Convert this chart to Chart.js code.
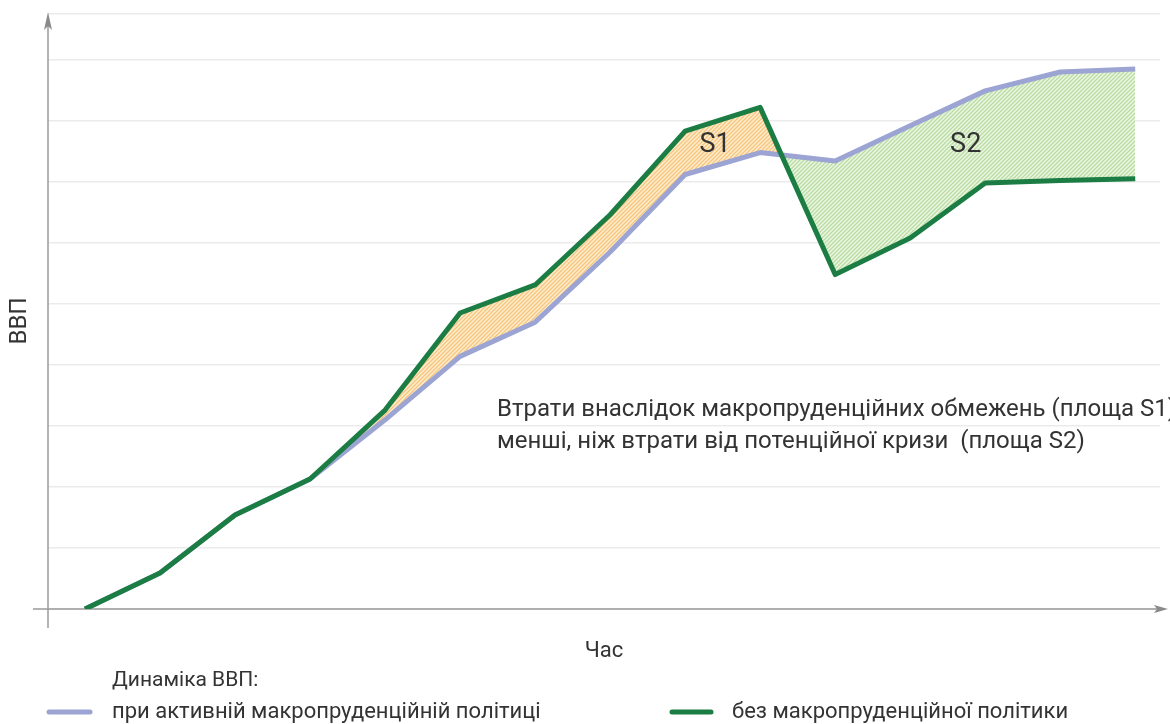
<!DOCTYPE html>
<html>
<head>
<meta charset="utf-8">
<script src="https://cdn.jsdelivr.net/npm/chart.js@4.4.1/dist/chart.umd.min.js"></script>
<style>
  html, body { margin: 0; padding: 0; background: #fff; }
  #wrap { width: 1170px; height: 724px; position: relative; }
</style>
</head>
<body>
<div id="wrap"><canvas id="gdpChart" width="1170" height="724"></canvas></div>
<script>
// Періоди (вісь часу) та значення ВВП
const periods = [0, 1, 2, 3, 4, 5, 6, 7, 8, 9, 10, 11, 12, 13, 14];
const gdpWithPolicy = [0, 0.59, 1.54, 2.13, 3.10, 4.14, 4.70, 5.85, 7.12, 7.48, 7.34, 7.92, 8.49, 8.80, 8.85];
const gdpNoPolicy = [0, 0.59, 1.54, 2.13, 3.26, 4.85, 5.31, 6.46, 7.83, 8.22, 5.48, 6.08, 6.98, 7.02, 7.05];

const labelWithPolicy = 'при активній макропруденційній політиці';
const labelNoPolicy = 'без макропруденційної політики';
const legendTitle = 'Динаміка ВВП:';
const yTitle = 'ВВП';
const xTitle = 'Час';
const noteLines = [
    'Втрати внаслідок макропруденційних обмежень (площа S1)',
    'менші, ніж втрати від потенційної кризи  (площа S2)'
];

const blueColor = '#9ba4d2';
const greenColor = '#1b7d43';
const textColor = '#333333';
const fontFamily = "'Roboto', 'Liberation Sans', sans-serif";

// Штрихування для площ S1 і S2
function makeHatch(bg, stripe, size) {
    const c = document.createElement('canvas');
    c.width = size; c.height = size;
    const g = c.getContext('2d');
    g.fillStyle = bg;
    g.fillRect(0, 0, size, size);
    g.strokeStyle = stripe;
    g.lineWidth = 1.4;
    g.beginPath();
    g.moveTo(0, size); g.lineTo(size, 0);
    g.moveTo(-size / 2, size / 2); g.lineTo(size / 2, -size / 2);
    g.moveTo(size / 2, size * 1.5); g.lineTo(size * 1.5, size / 2);
    g.stroke();
    return g.createPattern(c, 'repeat');
}
const hatchS1 = makeHatch('#feeed2', '#f7c57c', 4);
const hatchS2 = makeHatch('#edf7e5', '#b9dca2', 4);

// Осі зі стрілками, підписи, примітка та легенда
const decorations = {
    id: 'decorations',
    beforeDatasetsDraw(chart) {
        const ctx = chart.ctx;
        const x = chart.scales.x, y = chart.scales.y;
        const x0 = x.getPixelForValue(x.min);
        const y0 = y.getPixelForValue(0);
        ctx.save();
        ctx.strokeStyle = '#9a9a9a';
        ctx.fillStyle = '#8a8a8a';
        ctx.lineWidth = 1.5;
        ctx.beginPath();
        ctx.moveTo(x0, y0 + 19); ctx.lineTo(x0, chart.chartArea.top + 6);
        ctx.moveTo(x0 - 15, y0); ctx.lineTo(chart.chartArea.right + 2, y0);
        ctx.stroke();
        // стрілка вгору
        const top = chart.chartArea.top - 2;
        ctx.beginPath();
        ctx.moveTo(x0, top); ctx.lineTo(x0 - 4, top + 18); ctx.lineTo(x0, top + 14); ctx.lineTo(x0 + 4, top + 18);
        ctx.closePath(); ctx.fill();
        // стрілка вправо
        const right = chart.chartArea.right + 8;
        ctx.beginPath();
        ctx.moveTo(right, y0); ctx.lineTo(right - 14, y0 - 4); ctx.lineTo(right - 11, y0); ctx.lineTo(right - 14, y0 + 4);
        ctx.closePath(); ctx.fill();
        ctx.restore();
    },
    afterDatasetsDraw(chart) {
        const ctx = chart.ctx;
        const x = chart.scales.x, y = chart.scales.y;
        ctx.save();
        ctx.fillStyle = textColor;
        ctx.textBaseline = 'middle';

        // S1 / S2
        ctx.font = '27px ' + fontFamily;
        ctx.textAlign = 'center';
        ctx.fillText('S1', x.getPixelForValue(8.4), y.getPixelForValue(7.6));
        ctx.fillText('S2', x.getPixelForValue(11.74), y.getPixelForValue(7.6));

        // примітка
        ctx.textAlign = 'left';
        ctx.font = '24px ' + fontFamily;
        ctx.fillText(noteLines[0], 497, 410);
        ctx.fillText(noteLines[1], 497, 442);

        // підписи осей
        ctx.font = '22px ' + fontFamily;
        ctx.textAlign = 'center';
        ctx.fillText(xTitle, 604, 651);
        ctx.save();
        ctx.translate(20, 321);
        ctx.rotate(-Math.PI / 2);
        ctx.font = '24px ' + fontFamily;
        ctx.fillText(yTitle, 0, 0);
        ctx.restore();

        // легенда
        ctx.textAlign = 'left';
        ctx.font = '21px ' + fontFamily;
        ctx.fillText(legendTitle, 112, 681);
        ctx.font = '22px ' + fontFamily;
        ctx.fillText(labelWithPolicy, 112, 712);
        ctx.fillText(labelNoPolicy, 732, 712);
        ctx.lineWidth = 5;
        ctx.lineCap = 'round';
        ctx.strokeStyle = blueColor;
        ctx.beginPath(); ctx.moveTo(49, 712); ctx.lineTo(90, 712); ctx.stroke();
        ctx.strokeStyle = greenColor;
        ctx.beginPath(); ctx.moveTo(672, 712); ctx.lineTo(711, 712); ctx.stroke();
        ctx.restore();
    }
};

const ctx = document.getElementById('gdpChart').getContext('2d');

const gdpChart = new Chart(ctx, {
    type: 'line',
    data: {
        datasets: [
            {
                label: labelWithPolicy,
                data: periods.map((p, i) => ({ x: p, y: gdpWithPolicy[i] })),
                borderColor: blueColor,
                borderWidth: 5,
                borderJoinStyle: 'round',
                pointRadius: 0,
                tension: 0,
                fill: false,
                order: 1 // зелена лінія поверх синьої
            },
            {
                label: labelNoPolicy,
                data: periods.map((p, i) => ({ x: p, y: gdpNoPolicy[i] })),
                borderColor: greenColor,
                borderWidth: 5,
                borderJoinStyle: 'round',
                pointRadius: 0,
                tension: 0,
                fill: { target: 0, above: hatchS1, below: hatchS2 },
                order: 0
            }
        ]
    },
    options: {
        responsive: false,
        animation: false,
        layout: { padding: { left: 48, right: 10, top: 14, bottom: 115 } },
        plugins: {
            legend: { display: false },
            tooltip: { enabled: false },
            filler: { drawTime: 'beforeDatasetsDraw' }
        },
        scales: {
            x: {
                type: 'linear',
                min: -0.493,
                max: 14.33,
                grid: { display: false, drawTicks: false },
                border: { display: false },
                ticks: { display: false }
            },
            y: {
                min: 0,
                max: 9.75,
                grid: { color: '#ebebeb', lineWidth: 1.5, drawTicks: false },
                border: { display: false },
                ticks: { display: false, stepSize: 1 }
            }
        }
    },
    plugins: [decorations]
});
</script>
</body>
</html>
